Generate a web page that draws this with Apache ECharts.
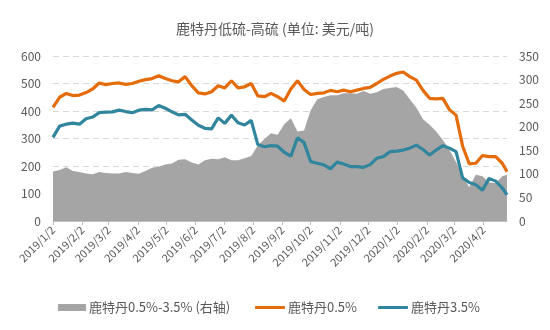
<!DOCTYPE html>
<html>
<head>
<meta charset="utf-8">
<script src="https://cdn.jsdelivr.net/npm/echarts@6/dist/echarts.min.js"></script>
<style>
html,body{margin:0;padding:0;background:#fff}
#chart{width:550px;height:330px}
</style>
</head>
<body>
<div id="chart"></div>
<script>
// Weekly observations (Wednesday closes) plus the last available day
const weekDates = [
  '2019/1/2','2019/1/9','2019/1/16','2019/1/23','2019/1/30','2019/2/6','2019/2/13','2019/2/20','2019/2/27','2019/3/6',
  '2019/3/13','2019/3/20','2019/3/27','2019/4/3','2019/4/10','2019/4/17','2019/4/24','2019/5/1','2019/5/8','2019/5/15',
  '2019/5/22','2019/5/29','2019/6/5','2019/6/12','2019/6/19','2019/6/26','2019/7/3','2019/7/10','2019/7/17','2019/7/24',
  '2019/7/31','2019/8/7','2019/8/14','2019/8/21','2019/8/28','2019/9/4','2019/9/11','2019/9/18','2019/9/25','2019/10/2',
  '2019/10/9','2019/10/16','2019/10/23','2019/10/30','2019/11/6','2019/11/13','2019/11/20','2019/11/27','2019/12/4','2019/12/11',
  '2019/12/18','2019/12/25','2020/1/1','2020/1/8','2020/1/15','2020/1/22','2020/1/29','2020/2/5','2020/2/12','2020/2/19',
  '2020/2/26','2020/3/4','2020/3/11','2020/3/18','2020/3/25','2020/4/1','2020/4/8','2020/4/15','2020/4/22','2020/4/27'
];

// Rotterdam 0.5% low-sulphur fuel oil, USD/t
const lowSulfur = [
  413,450,464,456,458,467,480,502,496,500,
  502,497,500,508,514,518,528,518,510,506,
  525,492,466,462,470,492,484,510,484,488,
  500,455,452,464,452,436,480,510,478,460,
  464,466,475,470,476,470,476,482,486,500,
  515,527,537,542,525,512,475,446,444,446,
  405,385,272,208,210,238,234,234,210,179
];

// Rotterdam 3.5% high-sulphur fuel oil, USD/t
const highSulfur = [
  304,345,352,356,352,372,378,394,396,397,
  403,398,394,403,406,404,420,410,397,386,
  388,367,348,337,335,375,355,385,357,349,
  366,278,270,274,272,250,236,303,285,216,
  210,204,190,214,207,198,198,195,205,228,
  234,252,254,258,265,276,260,240,258,274,
  265,252,157,140,132,112,155,145,120,95
];

// Spread 0.5% - 3.5%, USD/t (right axis)
const spread = [
  105,108,114,106,104,101,99,104,102,101,
  101,104,102,100,106,113,115,120,122,130,
  131,124,120,129,132,131,135,129,129,133,
  138,160,174,186,183,205,218,190,192,235,
  258,263,267,267,271,271,270,276,270,273,
  280,282,284,277,258,240,216,204,190,172,
  151,125,95,72,98,95,82,80,95,98
];

const leftAxisRange = { min: 0, max: 600, interval: 100 };
const rightAxisRange = { min: 0, max: 350, interval: 50 };

const seriesNames = ['鹿特丹0.5%-3.5% (右轴)', '鹿特丹0.5%', '鹿特丹3.5%'];
const titleText = '鹿特丹低硫-高硫 (单位: 美元/吨)';

// Daily calendar for the category axis
function fmt(d) { return d.getFullYear() + '/' + (d.getMonth() + 1) + '/' + d.getDate(); }
const days = [];
{
  const [sy, sm, sd] = weekDates[0].split('/').map(Number);
  const [ey, em, ed] = weekDates[weekDates.length - 1].split('/').map(Number);
  const d = new Date(sy, sm - 1, sd);
  const end = new Date(ey, em - 1, ed);
  while (d <= end) { days.push(fmt(d)); d.setDate(d.getDate() + 1); }
}
const dayIndex = {};
days.forEach((s, i) => { dayIndex[s] = i; });
const pairs = vals => weekDates.map((s, i) => [dayIndex[s], vals[i]]);
const isMonthMark = (idx, val) => val.split('/')[2] === '2';

const textColor = '#595959';
const font = '"Noto Sans CJK SC", "Noto Sans", sans-serif';

const chart = echarts.init(document.getElementById('chart'));
chart.setOption({
  animation: false,
  backgroundColor: '#ffffff',
  textStyle: { fontFamily: font },
  title: {
    text: titleText,
    left: 'center',
    top: 17,
    textStyle: { color: textColor, fontSize: 14, fontWeight: 'normal', fontFamily: font }
  },
  legend: [
    {
      data: [{ name: seriesNames[0], icon: 'rect' }],
      left: 53, top: 296,
      itemWidth: 28, itemHeight: 7,
      itemGap: 21,
      textStyle: { color: textColor, fontSize: 13, fontFamily: font, padding: [0, 0, 0, -2] }
    },
    {
      data: [{ name: seriesNames[1], icon: 'roundRect' }, { name: seriesNames[2], icon: 'roundRect' }],
      left: 250, top: 296,
      itemWidth: 30, itemHeight: 3,
      itemGap: 21,
      textStyle: { color: textColor, fontSize: 13, fontFamily: font, padding: [0, 0, 0, -2] }
    }
  ],
  grid: { left: 53, right: 43, top: 56, bottom: 109, containLabel: false },
  xAxis: {
    type: 'category',
    data: days,
    boundaryGap: false,
    axisLine: { lineStyle: { color: '#BFBFBF', width: 1 } },
    axisTick: { show: true, interval: isMonthMark, length: 4, lineStyle: { color: '#BFBFBF' } },
    axisLabel: {
      interval: isMonthMark,
      rotate: 45,
      color: textColor,
      fontSize: 11,
      margin: 7,
      fontFamily: font
    },
    splitLine: { show: false }
  },
  yAxis: [
    {
      type: 'value',
      min: leftAxisRange.min, max: leftAxisRange.max, interval: leftAxisRange.interval,
      axisLine: { show: false },
      axisTick: { show: false },
      axisLabel: { color: textColor, fontSize: 12, margin: 12, fontFamily: font },
      splitLine: { show: true, lineStyle: { color: '#D9D9D9', type: [6, 4], width: 1 } }
    },
    {
      type: 'value',
      min: rightAxisRange.min, max: rightAxisRange.max, interval: rightAxisRange.interval,
      axisLine: { show: false },
      axisTick: { show: false },
      axisLabel: { color: textColor, fontSize: 12, margin: 12, fontFamily: font },
      splitLine: { show: false }
    }
  ],
  series: [
    {
      name: seriesNames[0],
      type: 'line',
      yAxisIndex: 1,
      data: pairs(spread),
      showSymbol: false,
      color: '#A5A5A5',
      lineStyle: { width: 0 },
      areaStyle: { color: '#A5A5A5', opacity: 1 },
      z: 1
    },
    {
      name: seriesNames[1],
      type: 'line',
      yAxisIndex: 0,
      data: pairs(lowSulfur),
      showSymbol: false,
      color: '#E46C0A',
      lineStyle: { width: 3.2, color: '#E46C0A' },
      z: 3
    },
    {
      name: seriesNames[2],
      type: 'line',
      yAxisIndex: 0,
      data: pairs(highSulfur),
      showSymbol: false,
      color: '#31859C',
      lineStyle: { width: 3.2, color: '#31859C' },
      z: 4
    }
  ]
});
</script>
</body>
</html>
